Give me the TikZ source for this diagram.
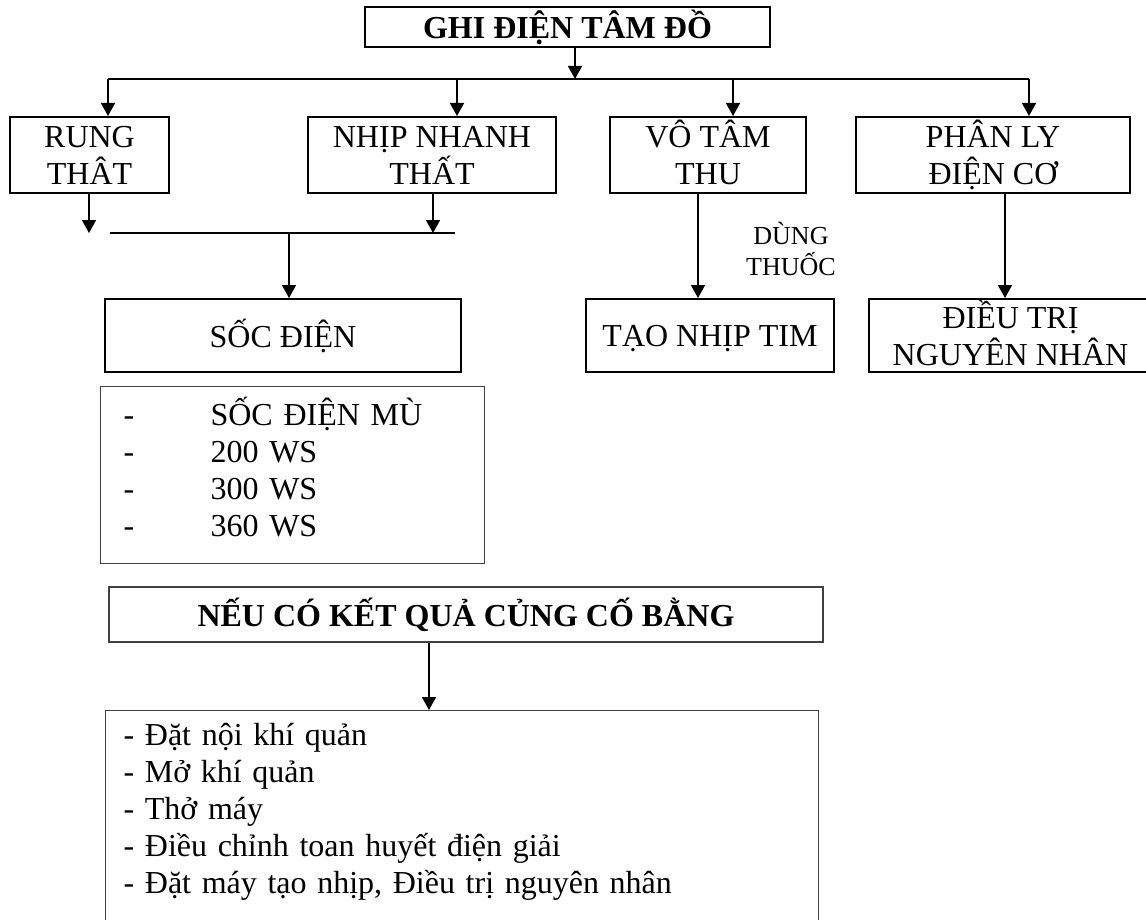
\documentclass[tikz,border=0pt]{standalone}
\usepackage{fontspec}
\setmainfont{Liberation Serif}
\usetikzlibrary{arrows.meta}
\newcommand{\tall}{\vphantom{ÂỊ}}

\begin{document}
\begin{tikzpicture}[x=0.5pt, y=-0.5pt, >={Triangle[length=6.5pt,width=7pt]},
  box/.style={draw, rectangle, line width=1pt, inner sep=0pt, align=center, font=\fontsize{16}{18.5}\selectfont},
  panel/.style={draw=black!75, rectangle, line width=0.6pt, inner ysep=0pt, align=left, font=\fontsize{16}{18.5}\selectfont},
  link/.style={line width=0.8pt}]
\useasboundingbox (0,0) rectangle (1146,920);
\node[box, font=\fontsize{16}{18.5}\selectfont\bfseries, minimum width=202.5pt, minimum height=20pt] (t) at (567.5,27) {GHI ĐIỆN TÂM ĐỒ};
\node[box, minimum width=79.5pt, minimum height=38pt] (r) at (89.5,155) {\tall RUNG\\\tall THÂT};
\node[box, minimum width=124pt, minimum height=38pt] (n) at (432,155) {\tall NHỊP NHANH\\\tall THẤT};
\node[box, minimum width=98pt, minimum height=38pt] (v) at (708,155) {\tall VÔ TÂM\\\tall THU};
\node[box, minimum width=137pt, minimum height=38pt] (p) at (993,155) {\tall PHÂN LY\\\tall ĐIỆN CƠ};
\node[box, minimum width=178pt, minimum height=36.5pt] (s) at (283,335.5) {\tall SỐC ĐIỆN};
\node[box, minimum width=124pt, minimum height=36.5pt] (tn) at (710,335.5) {\tall TẠO NHỊP TIM};
\node[box, minimum width=141.5pt, minimum height=36.5pt] (d) at (1010.5,335.5) {\tall ĐIỀU TRỊ\\\tall NGUYÊN NHÂN};
\node[align=center, font=\fontsize{13}{15.5}\selectfont] (dt) at (791,249) {DÙNG\\THUỐC};
\node[panel, anchor=north west, inner xsep=11.5pt, text width=169pt] (l) at (100,386)
  {\rule{0pt}{19.5pt}\makebox[43.5pt][l]{-}SỐC ĐIỆN MÙ\\
   \makebox[43.5pt][l]{-}200 WS\\
   \makebox[43.5pt][l]{-}300 WS\\
   \makebox[43.5pt][l]{-}360 WS\rule[-13.5pt]{0pt}{13.5pt}};
\node[panel, inner sep=0pt, align=center, font=\fontsize{16}{18.5}\selectfont\bfseries, minimum width=357pt, minimum height=27.5pt] (k) at (466,614.5) {NẾU CÓ KẾT QUẢ CỦNG CỐ BẰNG};
\node[panel, anchor=north west, inner xsep=9pt, text width=338.5pt] (b) at (105,710)
  {\rule{0pt}{17.5pt}- Đặt nội khí quản\\
   - Mở khí quản\\
   - Thở máy\\
   - Điều chỉnh toan huyết điện giải\\
   - Đặt máy tạo nhịp, Điều trị nguyên nhân\rule[-20pt]{0pt}{20pt}};

\coordinate (h1) at (108,79);
\coordinate (h2) at (457,79);
\coordinate (h3) at (733,79);
\coordinate (h4) at (1029,79);
\coordinate (tj) at (575,79);
\coordinate (c1) at (89,233);
\coordinate (c2) at (433,233);
\coordinate (c3) at (289,233);
\coordinate (e1) at (110,233);
\coordinate (e2) at (455,233);
\coordinate (vt) at (698,299);
\coordinate (pd) at (1005,299);
\coordinate (kb) at (429,710);

\draw[link, ->] (t.south -| tj) -- (tj);
\draw[link] (h1) -- (h4);
\foreach \a/\b in {h1/r, h2/n, h3/v, h4/p}
  \draw[link, ->] (\a) -- (\a |- \b.north);
\draw[link, ->] (r.south -| c1) -- (c1);
\draw[link, ->] (n.south -| c2) -- (c2);
\draw[link] (e1) -- (e2);
\draw[link, ->] (c3) -- (c3 |- s.north);
\draw[link, ->] (v.south -| vt) -- (vt |- tn.north);
\draw[link, ->] (p.south -| pd) -- (pd |- d.north);
\draw[link, ->] (k.south -| kb) -- (kb |- b.north);
\end{tikzpicture}
\end{document}
